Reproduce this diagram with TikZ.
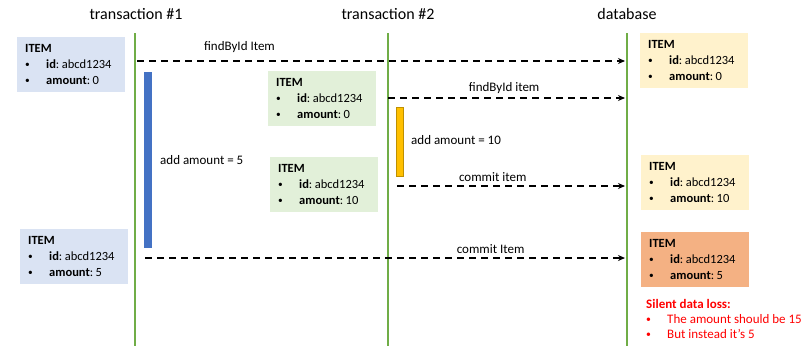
\documentclass[tikz,border=0pt]{standalone}
\usepackage{fontspec}
\setmainfont{Carlito}
\usetikzlibrary{arrows.meta, positioning}

\definecolor{lifegreen}{HTML}{70AD47}
\definecolor{oldblue}{HTML}{DAE3F3}
\definecolor{barblue}{HTML}{4472C4}
\definecolor{midgreen}{HTML}{E2F0D9}
\definecolor{baryellow}{HTML}{FFC000}
\definecolor{dbyellow}{HTML}{FFF2CC}
\definecolor{dborange}{HTML}{F4B183}
\definecolor{lossred}{HTML}{FF0000}

\newcommand{\smallbullet}{\makebox[21pt][l]{\raisebox{0.15ex}{\scalebox{0.75}{\textbullet}}}}
\newcommand{\itemlines}[1]{\textbf{ITEM}\\
  \smallbullet\textbf{id}:\hspace{2.5pt}abcd1234\\
  \smallbullet\textbf{amount}:\hspace{2.5pt}#1}

\tikzset{
  itembox/.style={anchor=north west, minimum width=108pt, minimum height=55pt,
    text width=92pt, inner xsep=8pt, inner ysep=0pt, align=left,
    font=\fontsize{12.5}{16}\selectfont},
  lifeline/.style={draw=lifegreen, line width=2.2pt},
  header/.style={font=\fontsize{16}{18}\selectfont},
  msg/.style={-{Stealth[length=7pt,width=6pt]}, line width=1.4pt, dash pattern=on 7pt off 5pt},
  msglabel/.style={font=\fontsize{13}{15}\selectfont, above},
  note/.style={font=\fontsize{13}{15}\selectfont, anchor=west, inner sep=0pt}
}

\begin{document}
\begin{tikzpicture}[x=1pt, y=-1pt]
    \useasboundingbox (0,0) rectangle (808,346);

    % lifelines
    \node[header] (tx1) at (136,14) {transaction \#1};
    \node[header] (tx2) at (388,14) {transaction \#2};
    \node[header] (db)  at (627,14) {database};
    \coordinate (tx1top) at (135,33);  \coordinate (tx1bot) at (135,346);
    \coordinate (tx2top) at (388,33);  \coordinate (tx2bot) at (388,346);
    \coordinate (dbtop)  at (627,33);  \coordinate (dbbot)  at (627,346);
    \draw[lifeline] (tx1top) -- (tx1bot);
    \draw[lifeline] (tx2top) -- (tx2bot);
    \draw[lifeline] (dbtop) -- (dbbot);

    % activity bars
    \node[fill=barblue, minimum width=8pt, minimum height=176pt, inner sep=0pt, anchor=north west] (bar1) at (144,72) {};
    \node[fill=baryellow, draw=baryellow!75!black, line width=0.6pt, minimum width=7pt, minimum height=69pt, inner sep=0pt, anchor=north west] (bar2) at (396,107) {};
    \node[note] (add5)  at (160,160) {add amount = 5};
    \node[note] (add10) at (411,140) {add amount = 10};

    % item states
    \node[itembox, fill=oldblue]  (t1read)   at (17,37)   {\itemlines{0}};
    \node[itembox, fill=midgreen] (t2read)   at (268,71)  {\itemlines{0}};
    \node[itembox, fill=midgreen] (t2write)  at (270,157) {\itemlines{10}};
    \node[itembox, fill=oldblue]  (t1write)  at (20,229)  {\itemlines{5}};
    \node[itembox, fill=dbyellow] (dbstart)  at (640,33)  {\itemlines{0}};
    \node[itembox, fill=dbyellow] (dbmid)    at (641,155) {\itemlines{10}};
    \node[itembox, fill=dborange] (dbend)    at (641,232) {\itemlines{5}};

    %messages
    \coordinate (m1a) at (137,61);  \coordinate (m1b) at (625,61);
    \coordinate (m2a) at (388,98);  \coordinate (m2b) at (625,98);
    \coordinate (m3a) at (397,186); \coordinate (m3b) at (625,186);
    \coordinate (m4a) at (145,258); \coordinate (m4b) at (625,258);
    \draw[msg] (m1a) -- node[msglabel, pos=0.21, yshift=4pt] {findById Item} (m1b);
    \draw[msg] (m2a) -- node[msglabel, pos=0.49] {findById item} (m2b);
    \draw[msg] (m3a) -- node[msglabel, pos=0.42] {commit item} (m3b);
    \draw[msg] (m4a) -- node[msglabel, pos=0.72] {commit Item} (m4b);

    % outcome
    \node[anchor=north west, align=left, text=lossred, inner sep=0pt,
          font=\fontsize{13}{15}\selectfont] (loss) at (646,299)
          {\textbf{Silent data loss:}\\
           \smallbullet The amount should be 15\\
           \smallbullet But instead it’s 5};
\end{tikzpicture}
\end{document}
